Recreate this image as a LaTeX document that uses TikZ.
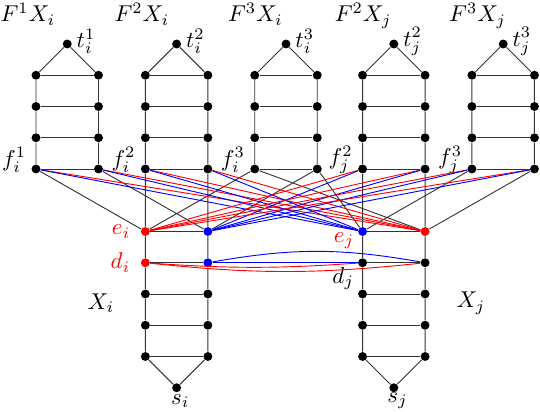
\documentclass[tikz,border=0pt]{standalone}
\usetikzlibrary{positioning}
\usetikzlibrary{calc}

\begin{document}
\begin{tikzpicture}[x=0.48cm, y=0.48cm,
    dot/.style={circle, fill, inner sep=0pt, minimum size=3.9pt},
    lab/.style={inner sep=1pt},
    edge/.style={black!80, line width=0.4pt},
    redge/.style={red, line width=0.4pt},
    bedge/.style={blue, line width=0.4pt}]

    \useasboundingbox (-1.152,-7.776) rectangle (16.128,5.408);

    % ladders F^k X
    \foreach \n/\x/\lx/\Flab/\tlab/\flab in {
        Fi1/0/-0.26/{F^1X_i}/{t_i^1}/{f_i^1},
        Fi2/3.5/3.39/{F^2X_i}/{t_i^2}/{f_i^2},
        Fi3/7/7.02/{F^3X_i}/{t_i^3}/{f_i^3},
        Fj2/10.45/10.47/{F^2X_j}/{t_j^2}/{f_j^2},
        Fj3/13.95/14.13/{F^3X_j}/{t_j^3}/{f_j^3}} {
        \foreach \r in {0,...,3} {
            \node[dot] (\n l\r) at (\x,\r) {};
            \node[dot] (\n r\r) at (\x+2,\r) {};
            \draw[edge] (\n l\r) -- (\n r\r);
        }
        \node[dot] (\n t) at (\x+1,4) {};
        \draw[edge] (\n l0) -- (\n l1) -- (\n l2) -- (\n l3) -- (\n t) -- (\n r3) -- (\n r2) -- (\n r1) -- (\n r0);
        \node[lab, anchor=base] (\n lab) at (\lx,4.71) {$\Flab$};
        \node[lab] (\n tlab) at ($(\n t)+(0.6,0.08)$) {$\tlab$};
        \node[lab] (\n flab) at ($(\n l0)+(-0.7,0.29)$) {$\flab$};
    }

    % X_i
    \node[dot, fill=red] (ei) at (3.5,-2) {};
    \node[dot, fill=blue] (eib) at (5.5,-2) {};
    \node[dot, fill=red] (di) at (3.5,-3) {};
    \node[dot, fill=blue] (dib) at (5.5,-3) {};
    \foreach \r in {1,2,3} {
        \node[dot] (Xil\r) at (3.5,-3-\r) {};
        \node[dot] (Xir\r) at (5.5,-3-\r) {};
        \draw[edge] (Xil\r) -- (Xir\r);
    }
    \node[dot] (si) at (4.5,-7) {};
    \draw[edge] (Fi2l0) -- (ei) -- (di) -- (Xil1) -- (Xil2) -- (Xil3) -- (si) -- (Xir3) -- (Xir2) -- (Xir1) -- (dib) -- (eib) -- (Fi2r0);
    \draw[edge] (ei) -- (eib) (di) -- (dib);

    % X_j
    \node[dot, fill=blue] (ejb) at (10.45,-2) {};
    \node[dot, fill=red] (ej) at (12.45,-2) {};
    \node[dot] (djl) at (10.45,-3) {};
    \node[dot] (djr) at (12.45,-3) {};
    \foreach \r in {1,2,3} {
        \node[dot] (Xjl\r) at (10.45,-3-\r) {};
        \node[dot] (Xjr\r) at (12.45,-3-\r) {};
        \draw[edge] (Xjl\r) -- (Xjr\r);
    }
    \node[dot] (sj) at (11.45,-7) {};
    \draw[edge] (Fj2l0) -- (ejb) -- (djl) -- (Xjl1) -- (Xjl2) -- (Xjl3) -- (sj) -- (Xjr3) -- (Xjr2) -- (Xjr1) -- (djr) -- (ej) -- (Fj2r0);
    \draw[edge] (ejb) -- (ej) (djl) -- (djr);

    % labels
    \node[lab, red, left=3.3pt of ei] (eilab) {$e_i$};
    \node[lab, red, left=3.3pt of di] (dilab) {$d_i$};
    \node[lab, red] (ejlab) at ($(ejb)+(-0.59,-0.29)$) {$e_j$};
    \node[lab] (djlab) at ($(djl)+(-0.62,-0.5)$) {$d_j$};
    \node[lab] (silab) at ($(si)+(0.12,-0.42)$) {$s_i$};
    \node[lab] (sjlab) at ($(sj)+(0.12,-0.42)$) {$s_j$};
    \node[lab] (Xilab) at (2.08,-4.29) {$X_i$};
    \node[lab] (Xjlab) at (13.92,-4.29) {$X_j$};

    % links to the e vertices
    \draw[edge] (Fi1l0) -- (ei) (Fi1r0) -- (eib) (Fi3l0) -- (ei) (Fi3r0) -- (eib)
        (Fi3l0) -- (ej) (Fi3r0) -- (ejb) (Fj3l0) -- (ejb) (Fj3r0) -- (ej);
    \foreach \v in {Fi1l0, Fi1r0, Fi2l0, Fi2r0} {
        \draw[redge] (\v) -- (ej);
        \draw[bedge] (\v) -- (ejb);
    }
    \foreach \v in {Fj2l0, Fj2r0, Fj3l0, Fj3r0} {
        \draw[redge] (\v) -- (ei);
        \draw[bedge] (\v) -- (eib);
    }

    % d row
    \draw[redge] (di) to[bend right=4] (djl);
    \draw[redge] (di) to[bend right=6] (djr);
    \draw[bedge] (dib) -- (djl);
    \draw[bedge] (dib) to[bend left=10] (djr);
\end{tikzpicture}
\end{document}
